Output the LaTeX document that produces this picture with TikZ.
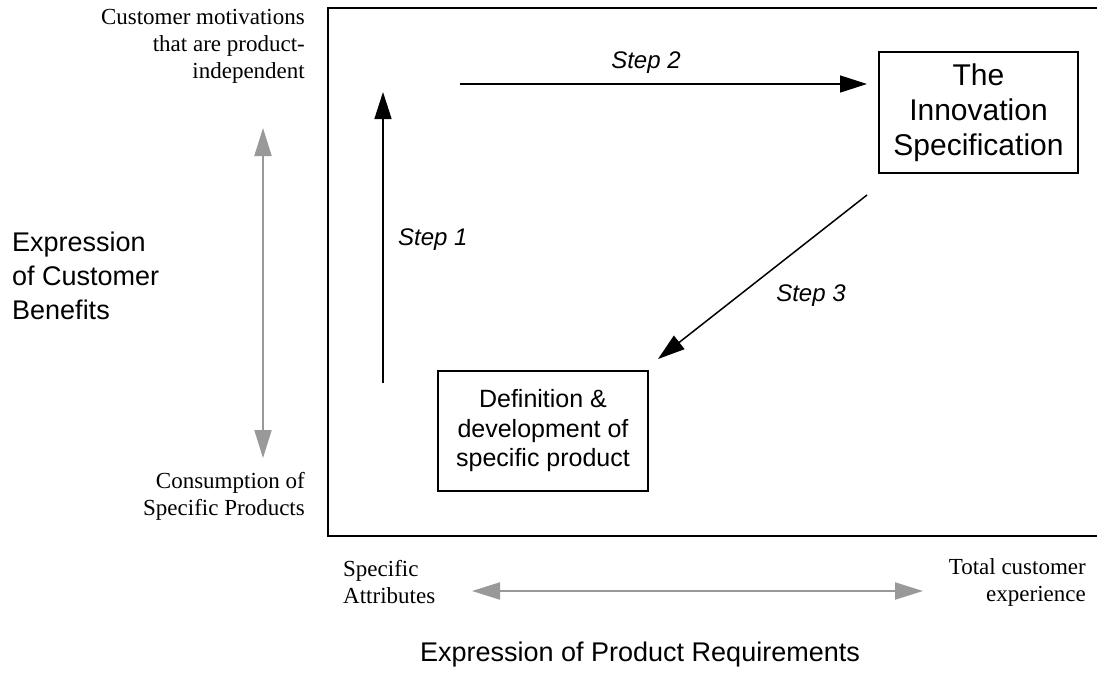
\documentclass[tikz,border=0pt]{standalone}
\usepackage{fontspec}
\setmainfont{Liberation Serif}
\setsansfont{Liberation Sans}
\usetikzlibrary{arrows.meta}
\definecolor{axisgray}{HTML}{999999}
\tikzset{
  blackarrow/.style={line width=1.5pt, -{Triangle[length=27pt,width=17pt]}},
  grayarrow/.style={line width=2pt, draw=axisgray, {Triangle[length=28pt,width=17pt]}-{Triangle[length=28pt,width=17pt]}},
  serifnote/.style={inner sep=0pt, font=\fontsize{23}{27}\selectfont},
  biglabel/.style={inner sep=0pt, font=\sffamily\fontsize{27}{34}\selectfont},
  steplabel/.style={inner sep=0pt, font=\sffamily\itshape\fontsize{24}{28}\selectfont},
  boxnode/.style={draw, line width=1.3pt, inner sep=0pt, align=center}
}
\begin{document}
\begin{tikzpicture}[x=1pt,y=-1pt]
\useasboundingbox (0,0) rectangle (1097,675);
\clip (0,0) rectangle (1097,675);
% frame
\draw[line width=1.6pt] (1120,8) -- (328,8) -- (328,536) -- (1120,536);
% boxes
\node[boxnode, minimum width=199pt, minimum height=121pt, font=\sffamily\fontsize{30}{35}\selectfont] (innov) at (978.5,112.5) {The\\Innovation\\Specification};
\node[boxnode, minimum width=210pt, minimum height=120pt, font=\sffamily\fontsize{25}{29.5}\selectfont] (defn) at (543,431) {Definition \&\\development of\\specific product};
% step arrows
\coordinate (s1a) at (383,383);
\coordinate (s1b) at (383,92);
\coordinate (s2a) at (460,84);
\coordinate (s2b) at (867,84);
\coordinate (s3a) at (867,195);
\coordinate (s3b) at (658,359);
\draw[blackarrow] (s1a) -- (s1b);
\draw[blackarrow] (s2a) -- (s2b);
\draw[blackarrow] (s3a) -- (s3b);
\node[steplabel, anchor=west] (st1) at (398,240) {Step 1};
\node[steplabel] (st2) at (646,63) {Step 2};
\node[steplabel] (st3) at (811,296) {Step 3};
% gray axes
\coordinate (vt) at (263,128);
\coordinate (vb) at (263,458);
\draw[grayarrow] (vt) -- (vb);
\coordinate (hl) at (472,591);
\coordinate (hr) at (923,591);
\draw[grayarrow] (hl) -- (hr);
% axis texts
\node[serifnote, align=right, anchor=east] (cm) at (305,46) {Customer motivations\\that are product-\\independent};
\node[serifnote, align=right, anchor=east] (cs) at (305,496) {Consumption of\\Specific Products};
\node[serifnote, align=left, anchor=west] (sa) at (343,582) {Specific\\Attributes};
\node[serifnote, align=right, anchor=east] (tc) at (1086,582) {Total customer\\experience};
\node[biglabel, align=left, anchor=west] (ecb) at (12,276) {Expression\\of Customer\\Benefits};
\node[biglabel] (epr) at (640,655) {Expression of Product Requirements};
\end{tikzpicture}
\end{document}
